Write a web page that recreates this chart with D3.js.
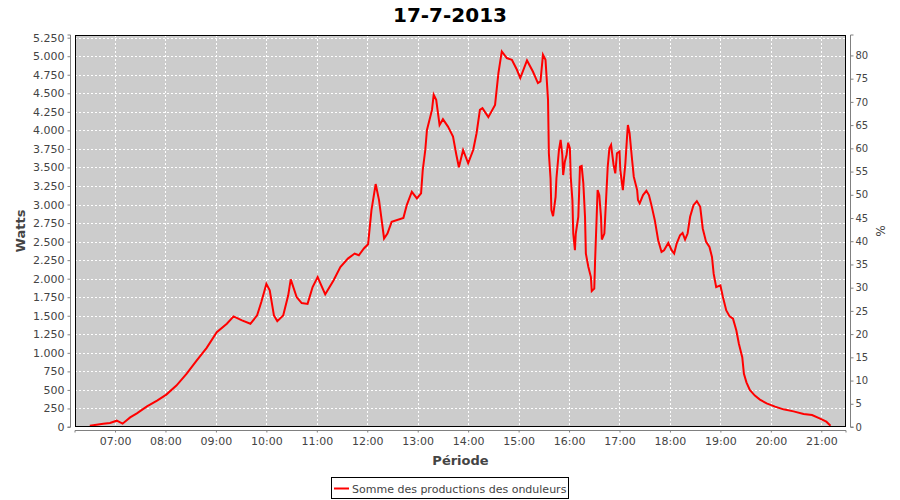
<!DOCTYPE html>
<html>
<head>
<meta charset="utf-8">
<script src="https://cdn.jsdelivr.net/npm/d3@7"></script>
<style>
  html, body { margin: 0; padding: 0; background: #ffffff; }
  svg { display: block; font-family: "DejaVu Sans", sans-serif; }
</style>
</head>
<body>
<svg id="chart" width="900" height="500"></svg>
<script>
const chartTitle = "17-7-2013";
const seriesName = "Somme des productions des onduleurs";
const yLabel = "Watts";
const y2Label = "%";
const xLabel = "Période";

const times = ["06:30","06:46","06:54","07:02","07:09","07:18","07:26","07:38","07:50","08:01",
  "08:13","08:25","08:37","08:49","09:01","09:13","09:21","09:31","09:41","09:49",
  "09:54","10:00","10:04","10:09","10:13","10:20","10:26","10:29","10:36","10:42",
  "10:49","10:55","11:01","11:10","11:20","11:28","11:37","11:45","11:50","11:56",
  "12:01","12:05","12:10","12:14","12:20","12:24","12:29","12:43","12:47","12:53",
  "12:59","13:04","13:06","13:09","13:11","13:17","13:19","13:22","13:26","13:30",
  "13:36","13:42","13:46","13:49","13:54","14:00","14:06","14:10","14:14","14:17",
  "14:24","14:32","14:36","14:40","14:46","14:52","14:58","15:02","15:10","15:17",
  "15:23","15:26","15:29","15:32","15:35","15:36","15:38","15:39","15:41","15:44",
  "15:45","15:48","15:50","15:52","15:53","15:55","15:57","15:59","16:01","16:02",
  "16:04","16:05","16:07","16:08","16:11","16:13","16:15","16:17","16:19","16:20",
  "16:23","16:26","16:27","16:30","16:31","16:33","16:34","16:36","16:38","16:39",
  "16:42","16:44","16:46","16:48","16:50","16:53","16:55","16:57","17:00","17:01",
  "17:04","17:07","17:09","17:10","17:12","17:15","17:17","17:21","17:22","17:24",
  "17:28","17:32","17:35","17:38","17:42","17:46","17:50","17:53","17:58","18:02",
  "18:05","18:08","18:12","18:15","18:18","18:21","18:24","18:28","18:32","18:36",
  "18:39","18:43","18:47","18:50","18:52","18:55","19:00","19:03","19:07","19:11",
  "19:15","19:19","19:22","19:26","19:28","19:31","19:35","19:41","19:47","19:55",
  "20:05","20:15","20:27","20:39","20:49","20:58","21:06","21:11"];

const watts = [18,45,54,85,45,130,184,279,356,437,
  558,716,896,1068,1279,1392,1491,1437,1392,1505,
  1685,1930,1843,1505,1428,1505,1775,1990,1752,1671,
  1660,1887,2022,1789,1978,2158,2271,2339,2316,2407,
  2465,2924,3276,3060,2542,2609,2766,2820,2992,3172,
  3083,3150,3465,3735,4006,4276,4479,4411,4073,4151,
  4051,3916,3668,3502,3735,3556,3735,3961,4276,4299,
  4178,4344,4772,5065,4975,4952,4817,4705,4943,4794,
  4637,4659,5020,4952,4411,3691,3353,2924,2843,3104,
  3353,3735,3871,3668,3398,3578,3668,3834,3758,3375,
  3060,2609,2384,2609,2834,3510,3519,3285,2834,2339,
  2158,2022,1833,1866,2248,2880,3195,3127,2834,2528,
  2609,3060,3510,3758,3803,3533,3420,3691,3713,3465,
  3195,3556,3915,4073,3961,3600,3375,3195,3060,3015,
  3127,3185,3127,2992,2789,2519,2361,2384,2482,2384,
  2339,2474,2586,2617,2528,2609,2834,2992,3046,2969,
  2677,2496,2428,2293,2068,1887,1910,1752,1572,1491,
  1460,1302,1122,941,717,603,500,423,369,319,
  274,238,211,176,162,116,72,18];

const wattTicks = d3.range(0, 5251, 250);
const pctTicks = d3.range(0, 81, 5);
const hourLabels = ["07:00","08:00","09:00","10:00","11:00","12:00","13:00","14:00",
  "15:00","16:00","17:00","18:00","19:00","20:00","21:00"];

const toMin = s => { const p = s.split(":"); return +p[0] * 60 + +p[1]; };
const data = times.map((t, i) => ({ t: toMin(t), w: watts[i] }));

const plot = { left: 75, right: 846, top: 35, bottom: 427 };
const svg = d3.select("#chart");

const x = d3.scaleLinear().domain([6 * 60 + 12.4, 21 * 60 + 29.4]).range([plot.left, plot.right]);
const y = d3.scaleLinear().domain([0, 5286]).range([plot.bottom, plot.top]);
const y2 = d3.scaleLinear().domain([0, 84.4]).range([plot.bottom, plot.top]);

const loc = d3.formatLocale({ decimal: ",", thousands: ".", grouping: [3], currency: ["", "€"] });
const fmt = loc.format(",d");

// plot background
svg.append("rect").attr("x", plot.left).attr("y", plot.top)
  .attr("width", plot.right - plot.left).attr("height", plot.bottom - plot.top)
  .attr("fill", "#cccccc");

// grid
const grid = svg.append("g").attr("stroke", "#ffffff").attr("stroke-width", 1)
  .attr("stroke-dasharray", "2,2").attr("shape-rendering", "crispEdges");
grid.selectAll("line.h").data(wattTicks.filter(d => d > 0)).join("line")
  .attr("x1", plot.left).attr("x2", plot.right)
  .attr("y1", d => Math.round(y(d)) + 0.5).attr("y2", d => Math.round(y(d)) + 0.5);
grid.selectAll("line.v").data(hourLabels).join("line")
  .attr("x1", d => Math.round(x(toMin(d))) + 0.5).attr("x2", d => Math.round(x(toMin(d))) + 0.5)
  .attr("y1", plot.top).attr("y2", plot.bottom);

// series line
svg.append("path").datum(data)
  .attr("fill", "none").attr("stroke", "#ff0000").attr("stroke-width", 2)
  .attr("stroke-linejoin", "miter")
  .attr("d", d3.line().x(d => x(d.t)).y(d => y(d.w)));

// plot border
svg.append("rect").attr("x", plot.left + 0.5).attr("y", plot.top + 0.5)
  .attr("width", plot.right - plot.left - 1).attr("height", plot.bottom - plot.top - 1)
  .attr("fill", "none").attr("stroke", "#000000").attr("stroke-width", 1);

// axes
const axisColor = "#808080";
const labelColor = "#444444";

const gL = svg.append("g").attr("transform", `translate(${plot.left - 4.5},0)`)
  .call(d3.axisLeft(y).tickValues(wattTicks).tickFormat(fmt).tickSize(3).tickPadding(3));
const gR = svg.append("g").attr("transform", `translate(${plot.right + 4.5},0)`)
  .call(d3.axisRight(y2).tickValues(pctTicks).tickFormat(d3.format("d")).tickSize(3).tickPadding(2));
const gB = svg.append("g").attr("transform", `translate(0,${plot.bottom + 3.5})`)
  .call(d3.axisBottom(x).tickValues(hourLabels.map(toMin))
    .tickFormat((d, i) => hourLabels[i]).tickSize(2).tickPadding(5));

[gL, gR, gB].forEach(g => {
  g.select(".domain").attr("stroke", axisColor);
  g.selectAll(".tick line").attr("stroke", axisColor);
  g.selectAll(".tick text").attr("fill", labelColor)
    .style("font-family", "'DejaVu Sans', sans-serif");
});
gL.selectAll(".tick text").style("font-size", "11px");
gB.selectAll(".tick text").style("font-size", "11px");
gR.selectAll(".tick text").style("font-size", "10px");
gL.select(".domain").attr("d", `M-3,${plot.top}H0V${plot.bottom}H-3`);
gR.select(".domain").attr("d", `M3,${plot.top}H0V${plot.bottom}H3`);
gB.select(".domain").attr("d", `M${plot.left},2V0H${plot.right}V2`);

// title
svg.append("text").attr("x", 450).attr("y", 22).attr("text-anchor", "middle")
  .style("font-family", "'DejaVu Sans', sans-serif").style("font-weight", "bold")
  .style("font-size", "20px").attr("fill", "#000000").text(chartTitle);

// axis labels
svg.append("text").attr("transform", `translate(25,${(plot.top + plot.bottom) / 2}) rotate(-90)`)
  .attr("text-anchor", "middle")
  .style("font-family", "'DejaVu Sans', sans-serif").style("font-weight", "bold")
  .style("font-size", "13px").attr("fill", labelColor).text(yLabel);
svg.append("text").attr("transform", `translate(876,${(plot.top + plot.bottom) / 2}) rotate(90)`)
  .attr("text-anchor", "middle")
  .style("font-family", "'DejaVu Sans', sans-serif")
  .style("font-size", "12px").attr("fill", labelColor).text(y2Label);
svg.append("text").attr("x", (plot.left + plot.right) / 2).attr("y", 465)
  .attr("text-anchor", "middle")
  .style("font-family", "'DejaVu Sans', sans-serif").style("font-weight", "bold")
  .style("font-size", "13px").attr("fill", labelColor).text(xLabel);

// legend
const lg = svg.append("g");
lg.append("rect").attr("x", 331.5).attr("y", 477.5).attr("width", 237).attr("height", 21)
  .attr("fill", "#ffffff").attr("stroke", "#000000").attr("stroke-width", 1);
lg.append("line").attr("x1", 334).attr("x2", 349).attr("y1", 488.5).attr("y2", 488.5)
  .attr("stroke", "#ff0000").attr("stroke-width", 2);
lg.append("text").attr("x", 352).attr("y", 492.5)
  .style("font-family", "'DejaVu Sans', sans-serif").style("font-size", "11px")
  .attr("fill", labelColor).text(seriesName);
</script>
</body>
</html>
